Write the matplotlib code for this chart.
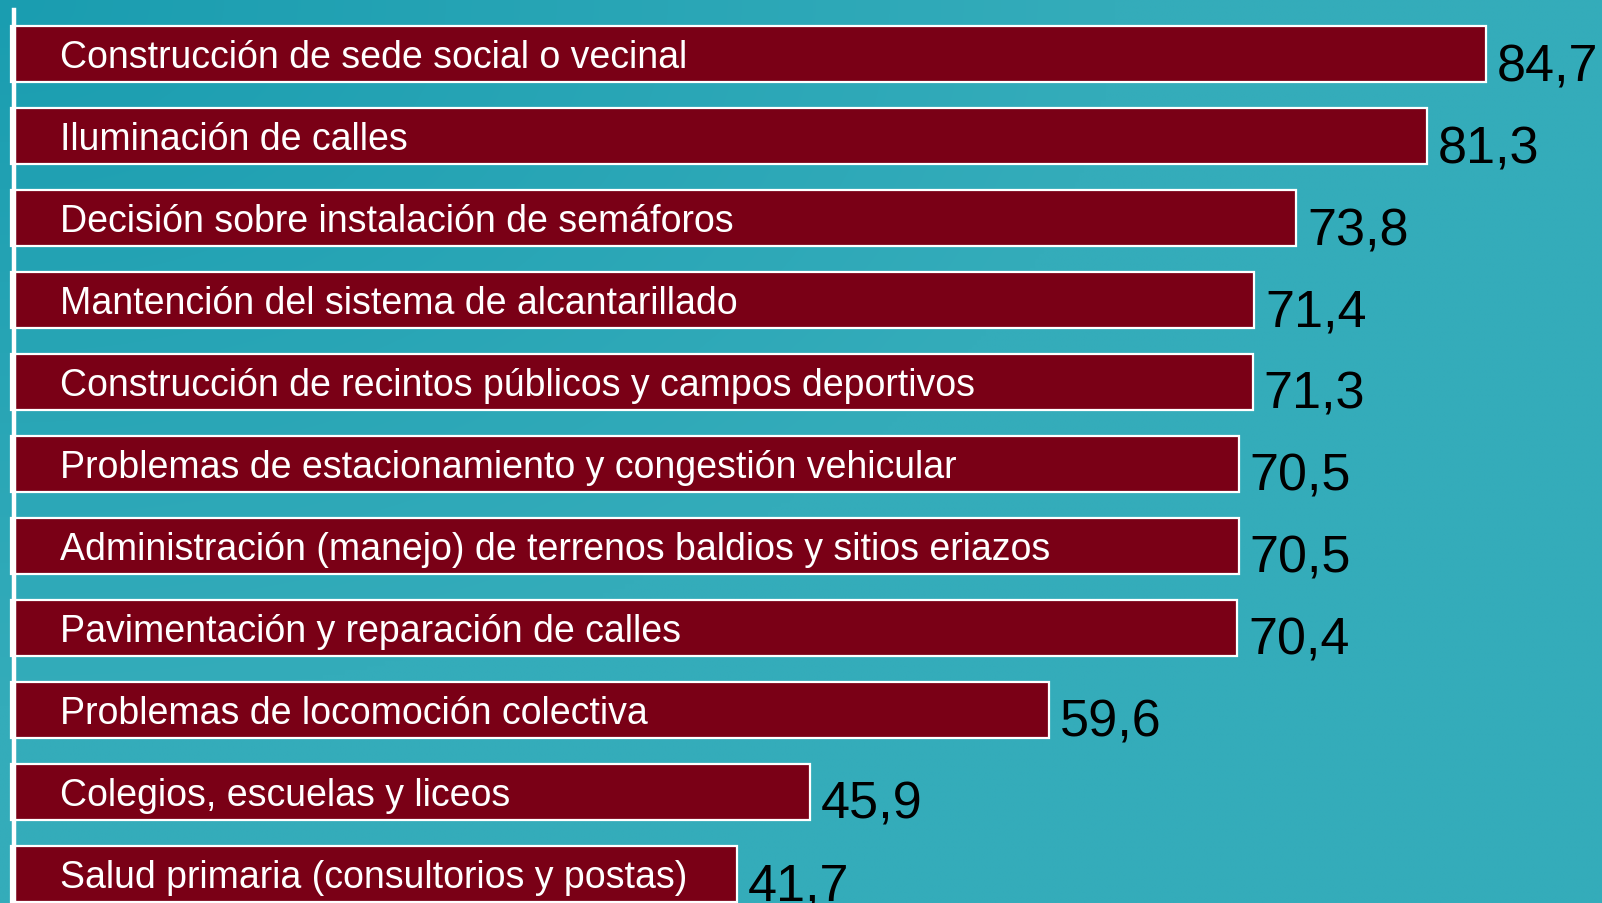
import numpy as np
import matplotlib
matplotlib.use("Agg")
import matplotlib.pyplot as plt

categories = [
    "Construcción de sede social o vecinal",
    "Iluminación de calles",
    "Decisión sobre instalación de semáforos",
    "Mantención del sistema de alcantarillado",
    "Construcción de recintos públicos y campos deportivos",
    "Problemas de estacionamiento y congestión vehicular",
    "Administración (manejo) de terrenos baldios y sitios eriazos",
    "Pavimentación y reparación de calles",
    "Problemas de locomoción colectiva",
    "Colegios, escuelas y liceos",
    "Salud primaria (consultorios y postas)",
]
values = [84.7, 81.3, 73.8, 71.4, 71.3, 70.5, 70.5, 70.4, 59.6, 45.9, 41.7]
value_labels = ["84,7", "81,3", "73,8", "71,4", "71,3", "70,5", "70,5", "70,4", "59,6", "45,9", "41,7"]

W, H = 1602, 904
fig = plt.figure(figsize=(W / 100, H / 100), dpi=100)

# background gradient
bg = fig.add_axes([0, 0, 1, 1], zorder=0)
yy, xx = np.mgrid[0:1:200j, 0:1:360j]
t = np.clip(1.6 * np.sqrt((xx * 0.9) ** 2 + (yy * 0.8) ** 2), 0, 1)
c0 = np.array([26, 157, 176]) / 255
c1 = np.array([52, 172, 186]) / 255
img = c0[None, None, :] * (1 - t[..., None]) + c1[None, None, :] * t[..., None]
bg.imshow(img, aspect="auto", extent=[0, 1, 1, 0], interpolation="bilinear")
bg.set_axis_off()

ax = fig.add_axes([0, 0, 1, 1], zorder=1)
ax.patch.set_alpha(0)

x0_px, scale = 10.5, 17.42
y0_px, pitch = 55.0, 82.0
ax.set_xlim(-x0_px / scale, (W - x0_px) / scale)
ax.set_ylim((H - y0_px) / pitch, -y0_px / pitch)

pos = np.arange(len(categories))
ax.barh(pos, values, height=0.68, color="#7A0016", edgecolor="white", linewidth=1.6, zorder=2)

for i, (cat, v, lab) in enumerate(zip(categories, values, value_labels)):
    ax.annotate(cat, xy=(50 / scale, i), xytext=(0, -2.5), textcoords="offset points",
                color="white", fontsize=27, family="Liberation Sans",
                va="center", ha="left", zorder=4)
    ax.annotate(lab, xy=(v, i), xytext=(8, -9), textcoords="offset points",
                fontsize=37.5, family="Liberation Sans", color="black",
                va="center", ha="left", zorder=4, annotation_clip=False)

# vertical axis line
line_x = 3.8 / scale
ax.axvline(line_x, ymin=0, ymax=1 - 11 / H, color="white", linewidth=3.2, zorder=3)

ax.set_axis_off()

fig.savefig("out.png", dpi=100)
